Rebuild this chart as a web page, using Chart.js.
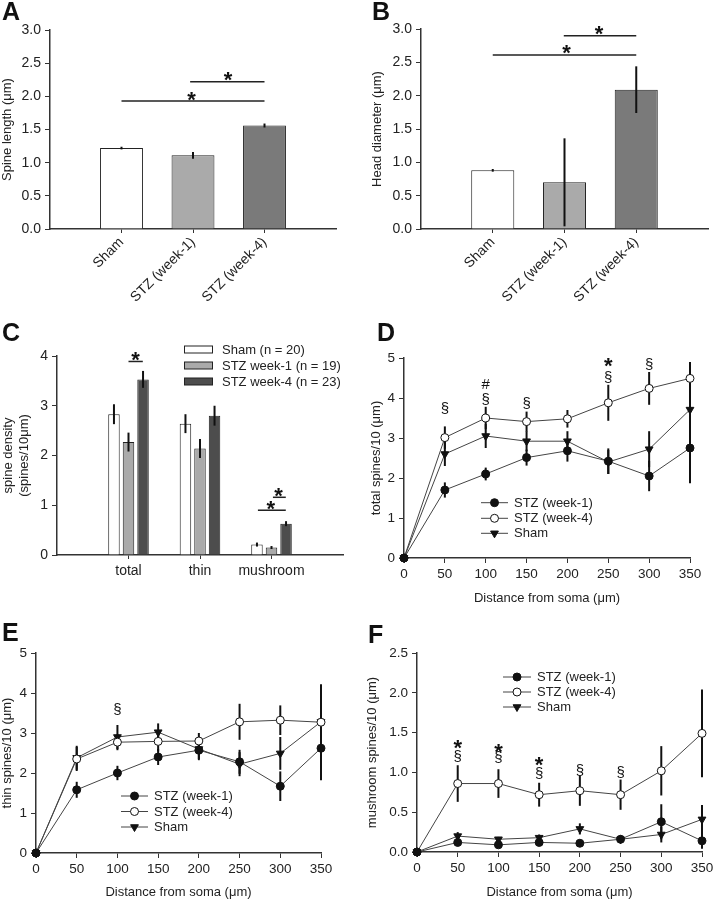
<!DOCTYPE html>
<html>
<head>
<meta charset="utf-8">
<script src="https://cdn.jsdelivr.net/npm/chart.js@4.4.1/dist/chart.umd.min.js"></script>
<style>
  body { margin: 0; background: #fff; }
  #fig { position: relative; width: 713px; height: 899px; overflow: hidden; font-family: Arial, "Liberation Sans", sans-serif; }
  #fig canvas { position: absolute; }
  .tag { position: absolute; font: bold 25px/25px Arial, "Liberation Sans", sans-serif; color: #111; }
</style>
</head>
<body>
<div id="fig">
  <canvas id="cA" width="360" height="310" style="left:0;top:0"></canvas>
  <canvas id="cB" width="353" height="310" style="left:360px;top:0"></canvas>
  <canvas id="cC" width="360" height="290" style="left:0;top:300px"></canvas>
  <canvas id="cD" width="353" height="306" style="left:360px;top:300px"></canvas>
  <canvas id="cE" width="360" height="300" style="left:0;top:600px"></canvas>
  <canvas id="cF" width="353" height="300" style="left:360px;top:600px"></canvas>
  <div class="tag" style="left:2px;top:-1px">A</div>
  <div class="tag" style="left:372px;top:-1px">B</div>
  <div class="tag" style="left:2px;top:320px">C</div>
  <div class="tag" style="left:377px;top:320px">D</div>
  <div class="tag" style="left:2px;top:620px">E</div>
  <div class="tag" style="left:368px;top:622px">F</div>
</div>
<script>
// values
const groups = ['Sham', 'STZ (week-1)', 'STZ (week-4)'];
const spineLength = [1.22, 1.11, 1.56];
const spineLengthErr = [0.02, 0.05, 0.03];
const headDiameter = [0.88, 0.70, 2.09];
const headDiameterErr = [0.02, 0.66, 0.35];

const densityCats = ['total', 'thin', 'mushroom'];
const densityNames = ['Sham (n = 20)', 'STZ week-1 (n = 19)', 'STZ week-4 (n = 23)'];
const densSham = [2.83, 2.64, 0.21];
const densShamErr = [0.20, 0.19, 0.04];
const densWk1 = [2.27, 2.14, 0.15];
const densWk1Err = [0.19, 0.19, 0.03];
const densWk4 = [3.53, 2.80, 0.63];
const densWk4Err = [0.17, 0.20, 0.05];

const distance = [0, 50, 100, 150, 200, 250, 300, 350];
const lineNames = ['STZ (week-1)', 'STZ (week-4)', 'Sham'];

const totalWk1 = [0, 1.70, 2.10, 2.51, 2.68, 2.42, 2.05, 2.75];
const totalWk1Err = [0, 0.19, 0.16, 0.20, 0.27, 0.32, 0.38, 0.88];
const totalWk4 = [0, 3.01, 3.50, 3.41, 3.48, 3.88, 4.24, 4.49];
const totalWk4Err = [0, 0.28, 0.28, 0.25, 0.22, 0.45, 0.41, 0.41];
const totalSham = [0, 2.60, 3.05, 2.92, 2.92, 2.40, 2.72, 3.71];
const totalShamErr = [0, 0.30, 0.30, 0.25, 0.25, 0.30, 0.45, 1.15];

const thinWk1 = [0, 1.58, 2.00, 2.40, 2.57, 2.28, 1.67, 2.62];
const thinWk1Err = [0, 0.20, 0.18, 0.20, 0.25, 0.30, 0.37, 0.80];
const thinWk4 = [0, 2.35, 2.77, 2.79, 2.80, 3.28, 3.32, 3.27];
const thinWk4Err = [0, 0.30, 0.20, 0.25, 0.20, 0.45, 0.37, 0.50];
const thinSham = [0, 2.38, 2.90, 3.02, 2.60, 2.22, 2.49, 3.28];
const thinShamErr = [0, 0.30, 0.30, 0.22, 0.25, 0.30, 0.41, 0.94];

const mushWk1 = [0, 0.12, 0.09, 0.12, 0.11, 0.16, 0.38, 0.14];
const mushWk1Err = [0, 0.03, 0.02, 0.03, 0.02, 0.04, 0.22, 0.10];
const mushWk4 = [0, 0.86, 0.86, 0.72, 0.77, 0.72, 1.02, 1.49];
const mushWk4Err = [0, 0.23, 0.18, 0.15, 0.19, 0.19, 0.31, 0.55];
const mushSham = [0, 0.20, 0.16, 0.18, 0.29, 0.16, 0.22, 0.41];
const mushShamErr = [0, 0.05, 0.03, 0.04, 0.07, 0.05, 0.10, 0.18];

const FONT = 'Arial, "Liberation Sans", sans-serif';
const INK = '#222';
Chart.defaults.font.family = FONT;
Chart.defaults.color = INK;
Chart.defaults.animation = false;
Chart.defaults.responsive = false;
Chart.defaults.plugins.legend.display = false;
Chart.defaults.plugins.tooltip.enabled = false;

// error bars drawn from dataset.errors through the y scale
function drawErrors(chart) {
  const ctx = chart.ctx, y = chart.scales.y;
  ctx.save();
  ctx.strokeStyle = '#111';
  ctx.lineWidth = 2;
  chart.data.datasets.forEach((ds, i) => {
    if (!ds.errors) return;
    chart.getDatasetMeta(i).data.forEach((el, j) => {
      const d = ds.data[j];
      const v = typeof d === 'object' ? d.y : d;
      const e = ds.errors[j];
      if (!e) return;
      ctx.beginPath();
      ctx.moveTo(el.x, y.getPixelForValue(v - e));
      ctx.lineTo(el.x, y.getPixelForValue(v + e));
      ctx.stroke();
    });
  });
  ctx.restore();
}
const errorBars = {
  id: 'errorBars',
  beforeDatasetsDraw(chart, args, opts) { if (opts.under) drawErrors(chart); },
  afterDatasetsDraw(chart, args, opts) { if (!opts.under) drawErrors(chart); }
};

// significance lines and symbols, placed in data units
const sigMarks = {
  id: 'sigMarks',
  afterDraw(chart, args, opts) {
    const ctx = chart.ctx, x = chart.scales.x, y = chart.scales.y;
    ctx.save();
    ctx.strokeStyle = INK;
    ctx.lineWidth = 1.5;
    (opts.lines || []).forEach(([x1, x2, v]) => {
      const py = y.getPixelForValue(v);
      ctx.beginPath();
      ctx.moveTo(x.getPixelForValue(x1), py);
      ctx.lineTo(x.getPixelForValue(x2), py);
      ctx.stroke();
    });
    ctx.fillStyle = '#111';
    ctx.textAlign = 'center';
    ctx.textBaseline = 'middle';
    (opts.texts || []).forEach(([tx, v, s]) => {
      const star = s === '*';
      const size = star ? 22 : 15;
      ctx.font = (star ? 'bold ' : '') + size + 'px ' + FONT;
      ctx.fillText(s, x.getPixelForValue(tx), y.getPixelForValue(v) + (star ? size * 0.22 : 0));
    });
    ctx.restore();
  }
};

function marker(ctx, ds, cx, cy) {
  ctx.fillStyle = ds.pointBackgroundColor;
  ctx.strokeStyle = ds.pointBorderColor;
  ctx.lineWidth = 1;
  ctx.beginPath();
  const r = ds.pointRadius;
  if (ds.pointStyle === 'triangle') {
    ctx.moveTo(cx, cy + r);
    ctx.lineTo(cx - r * 0.866, cy - r * 0.5);
    ctx.lineTo(cx + r * 0.866, cy - r * 0.5);
    ctx.closePath();
  } else {
    ctx.arc(cx, cy, r, 0, Math.PI * 2);
  }
  ctx.fill();
  ctx.stroke();
}

// hand placed key, styles taken from the datasets
const key = {
  id: 'key',
  afterDraw(chart, args, o) {
    if (!o.rows) return;
    const ctx = chart.ctx;
    ctx.save();
    chart.data.datasets.forEach((ds, i) => {
      const ry = o.rows[i];
      if (o.box) {
        ctx.fillStyle = ds.backgroundColor;
        ctx.strokeStyle = ds.borderColor;
        ctx.lineWidth = 1;
        ctx.fillRect(o.x1, ry - 3.5, o.x2 - o.x1, 7);
        ctx.strokeRect(o.x1 + 0.5, ry - 3.5, o.x2 - o.x1 - 1, 7);
      } else {
        ctx.strokeStyle = ds.borderColor;
        ctx.lineWidth = 1;
        ctx.beginPath();
        ctx.moveTo(o.x1, ry);
        ctx.lineTo(o.x2, ry);
        ctx.stroke();
        marker(ctx, ds, (o.x1 + o.x2) / 2, ry);
      }
      ctx.fillStyle = INK;
      ctx.font = '13px ' + FONT;
      ctx.textBaseline = 'middle';
      ctx.fillText(ds.label, o.tx, ry + 0.5);
    });
    ctx.restore();
  }
};

const plugins = [errorBars, sigMarks, key];

function yAxis(max, step, width, title, titlePad, decimals, size) {
  return {
    type: 'linear', min: 0, max: max,
    ticks: { stepSize: step, padding: 4, font: { size: size }, color: INK,
             callback: v => v.toFixed(decimals) },
    grid: { display: true, drawOnChartArea: false, drawTicks: true, tickLength: 5, color: '#333' },
    border: { display: true, color: '#333', width: 1.5 },
    title: { display: true, text: title, font: { size: 13 }, color: INK, padding: { top: titlePad, bottom: 0 } },
    afterFit: s => { s.width = width; s.paddingTop = 0; s.paddingBottom = 0; }
  };
}

function catAxis(names, height, rotate) {
  return {
    type: 'linear', min: 0, max: 4, offset: false,
    afterBuildTicks: s => { s.ticks = s.ticks.filter(t => t.value >= 1 && t.value <= 3); },
    ticks: { stepSize: 1, autoSkip: false, padding: rotate ? 1 : 4, font: { size: 14 }, color: INK,
             maxRotation: rotate ? 45 : 0, minRotation: rotate ? 45 : 0,
             callback: v => names[v - 1] },
    grid: { display: true, offset: false, drawOnChartArea: false, drawTicks: true, tickLength: 4, color: '#333' },
    border: { display: true, color: '#333', width: 1.5 },
    afterFit: s => { s.height = height; s.paddingLeft = 0; s.paddingRight = 0; }
  };
}

function distAxis(height) {
  return {
    type: 'linear', min: 0, max: 350,
    ticks: { stepSize: 50, padding: 3, font: { size: 13.5 }, color: INK },
    grid: { display: true, drawOnChartArea: false, drawTicks: true, tickLength: 5, color: '#333' },
    border: { display: true, color: '#333', width: 1.5 },
    title: { display: true, text: 'Distance from soma (μm)', font: { size: 13 }, color: INK, padding: 0 },
    afterFit: s => { s.height = height; s.paddingLeft = 0; s.paddingRight = 0; }
  };
}

const barFills = ['#ffffff', '#aaaaaa', '#7a7a7a'];

function simpleBars(id, values, errs, pad, yw, title, titlePad, marks) {
  new Chart(document.getElementById(id), {
    type: 'bar',
    data: {
      datasets: [{
        data: values.map((v, i) => ({ x: i + 1, y: v })),
        errors: errs,
        backgroundColor: barFills,
        borderColor: '#222',
        borderWidth: 1,
        barPercentage: 1,
        categoryPercentage: 0.6
      }]
    },
    options: {
      layout: { padding: pad },
      scales: { x: catAxis(groups, 81, true), y: yAxis(3, 0.5, yw, title, titlePad, 1, 14) },
      plugins: { sigMarks: marks }
    },
    plugins: plugins
  });
}

simpleBars('cA', spineLength, spineLengthErr, { top: 30, right: 24, left: 0, bottom: 0 }, 50,
  'Spine length (μm)', 0,
  { lines: [[1, 3, 1.93], [1.96, 3, 2.22]], texts: [[1.98, 2.01, '*'], [2.49, 2.31, '*']] });

simpleBars('cB', headDiameter, headDiameterErr, { top: 29, right: 5, left: 0, bottom: 0 }, 61,
  'Head diameter (μm)', 10,
  { lines: [[1, 3, 2.61], [1.99, 3, 2.9]], texts: [[2.03, 2.70, '*'], [2.48, 2.98, '*']] });

// C: grouped density bars
const densFills = ['#ffffff', '#aaaaaa', '#4d4d4d'];
new Chart(document.getElementById('cC'), {
  type: 'bar',
  data: {
    datasets: [densSham, densWk1, densWk4].map((arr, k) => ({
      label: densityNames[k],
      data: arr.map((v, i) => ({ x: i + 1, y: v })),
      errors: [densShamErr, densWk1Err, densWk4Err][k],
      backgroundColor: densFills[k],
      borderColor: '#222',
      borderWidth: 1,
      barPercentage: 0.79,
      categoryPercentage: 0.61
    }))
  },
  options: {
    layout: { padding: { top: 56, right: 17, left: 0, bottom: 0 } },
    scales: {
      x: catAxis(densityCats, 35, false),
      y: yAxis(4, 1, 57, ['spine density', '(spines/10μm)'], 1, 0, 14)
    },
    plugins: {
      sigMarks: {
        lines: [[1.0, 1.2, 3.89], [2.81, 3.2, 0.90], [3.02, 3.2, 1.16]],
        texts: [[1.1, 3.99, '*'], [2.99, 1.0, '*'], [3.1, 1.27, '*']]
      },
      key: { box: true, x1: 184, x2: 213, tx: 222, rows: [49.5, 65.5, 81.5] }
    }
  },
  plugins: plugins
});

// D, E, F: distance profiles
function lineSet(label, values, errs, shape, fill, r) {
  return {
    label: label,
    data: values.map((v, i) => ({ x: distance[i], y: v })),
    errors: errs,
    borderColor: '#444',
    borderWidth: 1,
    tension: 0,
    clip: false,
    pointStyle: shape,
    pointRotation: shape === 'triangle' ? 180 : 0,
    pointRadius: r,
    pointBackgroundColor: fill,
    pointBorderColor: '#111',
    pointBorderWidth: 1
  };
}

function profile(id, w1, w1e, w4, w4e, sh, she, cfg) {
  new Chart(document.getElementById(id), {
    type: 'line',
    data: {
      datasets: [
        lineSet(lineNames[0], w1, w1e, 'circle', '#111', 4),
        lineSet(lineNames[1], w4, w4e, 'circle', '#fff', 4),
        lineSet(lineNames[2], sh, she, 'triangle', '#111', 4.5)
      ]
    },
    options: {
      layout: { padding: cfg.pad },
      scales: {
        x: distAxis(cfg.xh),
        y: yAxis(cfg.ymax, cfg.ystep, cfg.yw, cfg.title, cfg.titlePad, cfg.dec, 13.5)
      },
      plugins: {
        errorBars: { under: true },
        sigMarks: { texts: cfg.texts },
        key: cfg.key
      }
    },
    plugins: plugins
  });
}

profile('cD', totalWk1, totalWk1Err, totalWk4, totalWk4Err, totalSham, totalShamErr, {
  pad: { top: 58, right: 23, left: 0, bottom: 0 }, xh: 48, yw: 44,
  ymax: 5, ystep: 1, dec: 0, title: 'total spines/10 (μm)', titlePad: 9,
  texts: [[50, 3.73, '§'], [100, 3.96, '§'], [100, 4.33, '#'], [150, 3.86, '§'],
          [250, 4.50, '§'], [250, 4.90, '*'], [300, 4.84, '§']],
  key: { x1: 121, x2: 148, tx: 154, rows: [202.7, 218.3, 233.3] }
});

profile('cE', thinWk1, thinWk1Err, thinWk4, thinWk4Err, thinSham, thinShamErr, {
  pad: { top: 53, right: 39, left: 0, bottom: 0 }, xh: 47, yw: 36,
  ymax: 5, ystep: 1, dec: 0, title: 'thin spines/10 (μm)', titlePad: 0,
  texts: [[100, 3.59, '§']],
  key: { x1: 121, x2: 148, tx: 154, rows: [196, 211.5, 227] }
});

profile('cF', mushWk1, mushWk1Err, mushWk4, mushWk4Err, mushSham, mushShamErr, {
  pad: { top: 53, right: 11, left: 0, bottom: 0 }, xh: 48, yw: 57,
  ymax: 2.5, ystep: 0.5, dec: 1, title: 'mushroom spines/10 (μm)', titlePad: 5,
  texts: [[50, 1.20, '§'], [50, 1.36, '*'], [100, 1.18, '§'], [100, 1.31, '*'],
          [150, 0.98, '§'], [150, 1.14, '*'], [200, 1.02, '§'], [250, 1.00, '§']],
  key: { x1: 143, x2: 171, tx: 177, rows: [77, 92, 107] }
});
</script>
</body>
</html>
